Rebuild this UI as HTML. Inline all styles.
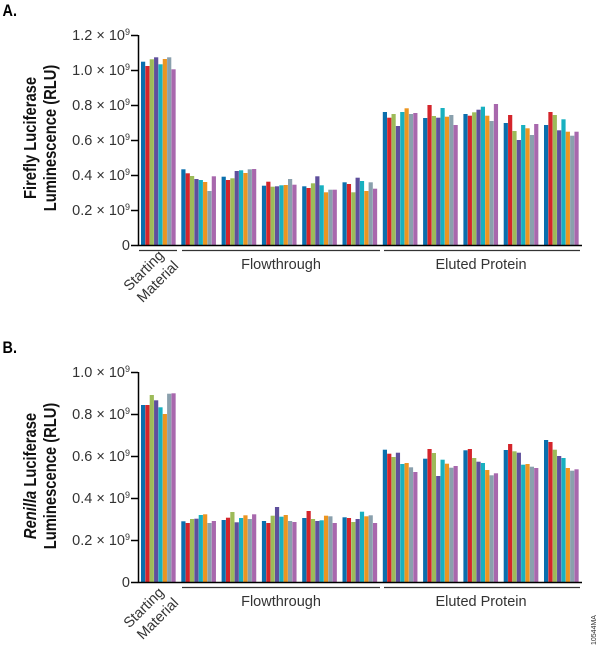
<!DOCTYPE html>
<html><head><meta charset="utf-8"><style>
html,body{margin:0;padding:0;background:#fff;}
svg{display:block;font-family:"Liberation Sans",sans-serif;}
.t{font-size:14.5px;fill:#333;}
.yt{font-size:18px;font-weight:bold;fill:#111;}
</style></head><body>
<svg id="s" width="600" height="648" viewBox="0 0 600 648">
<text x="3" y="16" font-size="17" font-weight="bold" transform="scale(0.85,1)">A.</text>
<text x="3" y="353" font-size="17" font-weight="bold" transform="scale(0.85,1)">B.</text>
<g id="bars"></g>
<g stroke="#000" stroke-width="1.5" fill="none">
<path d="M138.5 35 V245.5 H582"/>
<path d="M131 35.5H138 M131 70.5H138 M131 105.5H138 M131 140.5H138 M131 175.5H138 M131 210.5H138 M131 245.5H138"/>
<path d="M138.5 372 V582.5 H582"/>
<path d="M131 372.5H138 M131 414.5H138 M131 456.5H138 M131 498.5H138 M131 540.5H138 M131 582.5H138"/>
</g>
<g stroke="#333" stroke-width="1.2">
<path d="M139 250.5H177 M182 250.5H380 M384 250.5H580"/>
<path d="M182 587.5H380 M384 587.5H580"/>
</g>
<g class="t" text-anchor="end">
<text x="130" y="40">1.2 × 10<tspan font-size="9" dy="-5">9</tspan></text>
<text x="130" y="75">1.0 × 10<tspan font-size="9" dy="-5">9</tspan></text>
<text x="130" y="110">0.8 × 10<tspan font-size="9" dy="-5">9</tspan></text>
<text x="130" y="145">0.6 × 10<tspan font-size="9" dy="-5">9</tspan></text>
<text x="130" y="180">0.4 × 10<tspan font-size="9" dy="-5">9</tspan></text>
<text x="130" y="215">0.2 × 10<tspan font-size="9" dy="-5">9</tspan></text>
<text x="130" y="250">0</text>
<text x="130" y="377">1.0 × 10<tspan font-size="9" dy="-5">9</tspan></text>
<text x="130" y="419">0.8 × 10<tspan font-size="9" dy="-5">9</tspan></text>
<text x="130" y="461">0.6 × 10<tspan font-size="9" dy="-5">9</tspan></text>
<text x="130" y="503">0.4 × 10<tspan font-size="9" dy="-5">9</tspan></text>
<text x="130" y="545">0.2 × 10<tspan font-size="9" dy="-5">9</tspan></text>
<text x="130" y="587">0</text>
</g>
<g class="yt" text-anchor="middle">
<text transform="translate(36,138) rotate(-90) scale(0.82,1)">Firefly Luciferase</text>
<text transform="translate(56,138) rotate(-90) scale(0.82,1)">Luminescence (RLU)</text>
<text transform="translate(36,476) rotate(-90) scale(0.82,1)"><tspan font-style="italic">Renilla</tspan> Luciferase</text>
<text transform="translate(56,476) rotate(-90) scale(0.82,1)">Luminescence (RLU)</text>
</g>
<g class="t" text-anchor="middle">
<text x="281" y="269">Flowthrough</text>
<text x="481" y="269">Eluted Protein</text>
<text x="281" y="606">Flowthrough</text>
<text x="481" y="606">Eluted Protein</text>
<text transform="translate(147,274) rotate(-45)">Starting</text>
<text transform="translate(161,285) rotate(-45)">Material</text>
<text transform="translate(147,611) rotate(-45)">Starting</text>
<text transform="translate(161,622) rotate(-45)">Material</text>
</g>
<text transform="translate(596,645) rotate(-90)" font-size="7" fill="#333">10544MA</text>
</svg>
<script>
var cols=["#0a6fad","#d4252b","#9dbb59","#5f4f9c","#18b0c0","#ec9520","#8aa0ad","#a868ad"];
var A=[[61.7,66,59.3,57.3,64.3,59,57.3,69.3],[169.3,173.3,176,179,180,182,191,176.3],[176.7,180,178.3,171,170.3,173,169.3,169],[185.7,181.7,186.7,186.3,185.3,185,179,184.7],[186.3,188,183.3,176.3,185.3,192.3,189.7,189.7],[182.3,184,192.3,177.7,181,191,182.3,188.7],[112,117.7,114,126,112,108.3,114,113],[118,105,116,117.7,108,116.7,115,125],[114,115.7,112.3,109.7,106.7,115.7,121,104],[123,115,131,140,125,128.3,135,124],[125,112,115,130.3,119.3,131.7,135.7,131.7]];
var B=[[405,405,395,400.3,407.3,414,393.7,393.3],[521.3,523,519,518.7,515,514.3,523,521],[520,517.7,512,522.3,518,515.3,519,514.3],[521,523,515.7,507,516.7,515,521,522],[518,511,519,521,520.3,515.7,516.3,523],[517.3,518,522,519,511.7,516.3,515.3,523],[449.7,453.7,457,452.7,464,463,467.3,472],[458.7,449,453,476,459.7,463.7,467.7,466],[450.3,449,458,461.7,463,470,475.3,473.3],[450,444,451.3,452.7,464.7,464,466.7,468],[440,442,449.7,456,458,468,470.7,469.3]];
var g=document.getElementById("bars"),h="";
function draw(D,base){for(var i=0;i<D.length;i++){var x0=141+40.3*i;for(var j=0;j<8;j++){var x=x0+j*4.35,y=D[i][j];h+='<rect x="'+x.toFixed(2)+'" y="'+y+'" width="4.2" height="'+(base-y).toFixed(1)+'" fill="'+cols[j]+'"/>';}}}
draw(A,245);draw(B,582);g.innerHTML=h;
</script>
</body></html>
